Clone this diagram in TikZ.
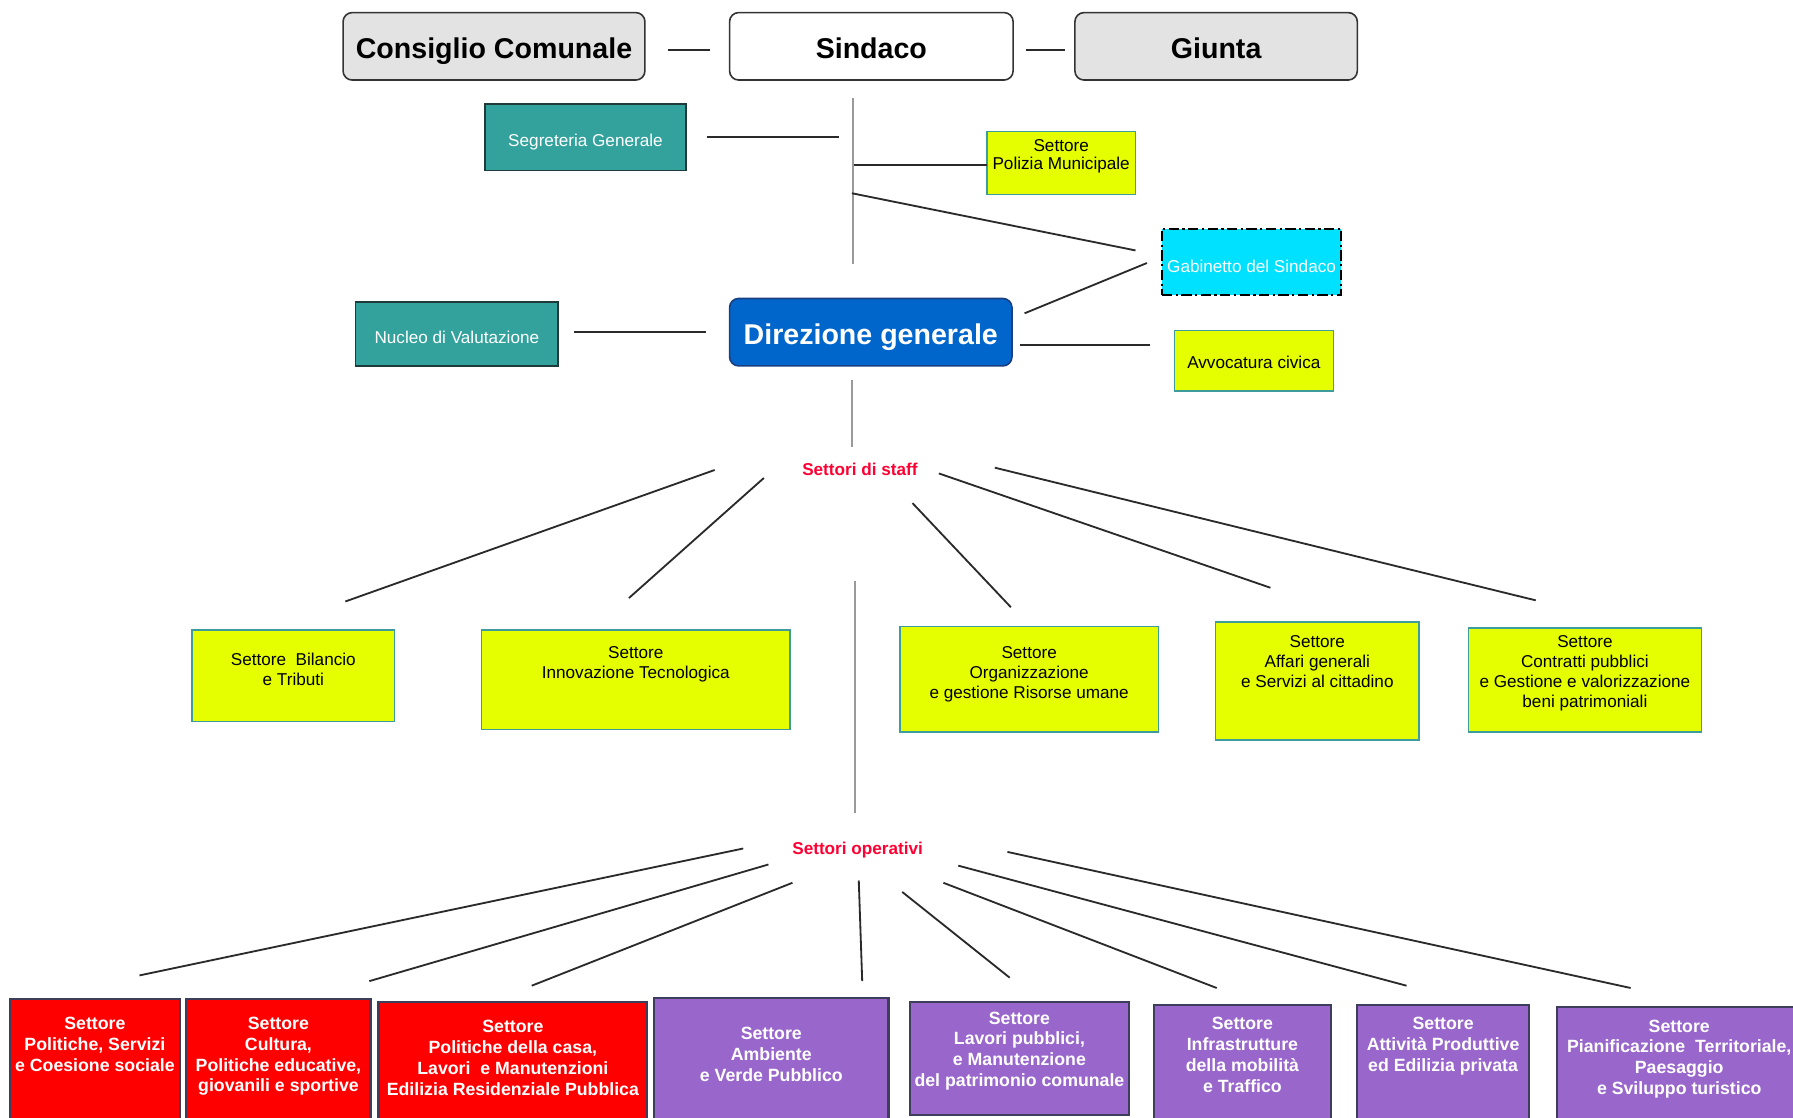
\documentclass[tikz,border=0pt]{standalone}
\usepackage{fontspec}
\setmainfont{Liberation Sans}
\definecolor{grayc}{HTML}{E3E3E3}
\definecolor{tealc}{HTML}{33A29D}
\definecolor{tealbord}{HTML}{1E3A3A}
\definecolor{yellowc}{HTML}{E6FF00}
\definecolor{ybord}{HTML}{3E9C9C}
\definecolor{cyanc}{HTML}{00E1FF}
\definecolor{bluec}{HTML}{0066CC}
\definecolor{bluebord}{HTML}{1A3F80}
\definecolor{redc}{HTML}{FF0000}
\definecolor{purplec}{HTML}{9966CC}
\definecolor{obord}{HTML}{3D3D5C}
\definecolor{labred}{HTML}{FF0033}
\definecolor{linec}{HTML}{2A2A2A}
\definecolor{vlinec}{HTML}{9A9A9A}
\begin{document}
\begin{tikzpicture}[x=1pt,y=-1pt,
  conn/.style={draw=linec, line width=1.6pt},
  vconn/.style={draw=vlinec, line width=2pt},
  topbox/.style={draw=black!80, line width=1.4pt, rounded corners=8pt, minimum height=59pt, inner sep=0pt, text height=21pt, text depth=0pt, font=\bfseries\fontsize{25}{30}\selectfont},
  tealbox/.style={draw=tealbord, fill=tealc, line width=1.4pt, inner sep=0pt, text=white, text height=16.8pt, text depth=0pt, font=\fontsize{15}{17.5}\selectfont},
  ybox/.style={draw=ybord, fill=yellowc, line width=1.3pt, inner sep=0pt, font=\fontsize{15}{17.5}\selectfont},
  ytext/.style={align=center, inner sep=0pt, font=\fontsize{15}{17.5}\selectfont, text=black},
  obox/.style={draw=obord, line width=1.8pt, inner sep=0pt, anchor=north, minimum height=125pt},
  otext/.style={align=center, inner sep=0pt, text=white, font=\bfseries\fontsize{15.5}{18.3}\selectfont},
  redlabel/.style={text=labred, font=\bfseries\fontsize{15}{18}\selectfont, inner sep=0pt}
]
\useasboundingbox (0,0) rectangle (1568,977);
\fill[white] (0,0) rectangle (1568,977);

% ---- top row
\node[topbox, fill=grayc, minimum width=264pt] (cc) at (432,40.5) {Consiglio Comunale};
\node[topbox, fill=white, minimum width=248pt] (sin) at (762,40.5) {Sindaco};
\node[topbox, fill=grayc, minimum width=247pt] (giu) at (1063.5,40.5) {Giunta};

% ---- second level
\node[tealbox, minimum width=176pt, minimum height=58pt] (seg) at (512,120) {Segreteria Generale};
\node[ybox, minimum width=130pt, minimum height=55pt,
  label={[ytext, font=\fontsize{15}{16}\selectfont, anchor=north, yshift=-7.5pt]north:{Settore\\Polizia Municipale}}] (pol) at (928,142.5) {};
\node[draw=black, line width=1.5pt, dash pattern=on 9pt off 3pt on 2pt off 3pt, fill=cyanc,
  minimum width=157pt, minimum height=58pt, inner sep=0pt, text=white, text height=18.8pt, text depth=0pt,
  font=\fontsize{15}{17.5}\selectfont] (gab) at (1094.5,229) {Gabinetto del Sindaco};
\node[draw=bluebord, fill=bluec, line width=1.4pt, rounded corners=8pt, minimum width=247pt,
  minimum height=59pt, inner sep=0pt, text=white, text height=21pt, text depth=0pt,
  font=\bfseries\fontsize{25}{30}\selectfont] (dir) at (761.5,290.5) {Direzione generale};
\node[tealbox, minimum width=177pt, minimum height=56pt] (nuc) at (399.5,292) {Nucleo di Valutazione};
\node[ybox, minimum width=139pt, minimum height=53pt, text height=13.8pt, text depth=0pt] (avv) at (1096.5,315.5) {Avvocatura civica};

% ---- staff
\node[redlabel] (staff) at (752,410.5) {Settori di staff};
\node[ybox, minimum width=177pt, minimum height=80pt,
  label={[ytext, anchor=north, yshift=-20.5pt]north:{Settore\ \ Bilancio\\e Tributi}}] (bil) at (256.5,591) {};
\node[ybox, minimum width=270pt, minimum height=87pt,
  label={[ytext, anchor=north, yshift=-14.5pt]north:{Settore\\Innovazione Tecnologica}}] (inn) at (556,594.5) {};
\node[ybox, minimum width=226pt, minimum height=92pt,
  label={[ytext, anchor=north, yshift=-17.5pt]north:{Settore\\Organizzazione\\e gestione Risorse umane}}] (org) at (900,594) {};
\node[ybox, minimum width=178pt, minimum height=103pt,
  label={[ytext, anchor=north, yshift=-12.5pt]north:{Settore\\Affari generali\\e Servizi al cittadino}}] (aff) at (1152,595.5) {};
\node[ybox, minimum width=204pt, minimum height=91pt,
  label={[ytext, anchor=north, yshift=-7.5pt]north:{Settore\\Contratti pubblici\\e Gestione e valorizzazione\\beni patrimoniali}}] (con) at (1386,594.5) {};

% ---- operative
\node[redlabel] (oper) at (750,743) {Settori operativi};
\node[obox, fill=redc, minimum width=148pt,
  label={[otext, anchor=north, yshift=-16pt]north:{Settore\\Politiche, Servizi\\e Coesione sociale}}] (op1) at (83,873) {};
\node[obox, fill=redc, minimum width=161pt,
  label={[otext, anchor=north, yshift=-16pt]north:{Settore\\Cultura,\\Politiche educative,\\giovanili e sportive}}] (op2) at (243.5,873) {};
\node[obox, fill=redc, minimum width=235pt,
  label={[otext, anchor=north, yshift=-17pt]north:{Settore\\Politiche della casa,\\Lavori\ \ e Manutenzioni\\Edilizia Residenziale Pubblica}}] (op3) at (448.5,875) {};
\node[obox, fill=purplec, minimum width=205pt,
  label={[otext, anchor=north, yshift=-26pt]north:{Settore\\Ambiente\\e Verde Pubblico}}] (op4) at (674.5,872) {};
\node[obox, fill=purplec, minimum width=191pt, minimum height=99pt,
  label={[otext, anchor=north, yshift=-9.5pt]north:{Settore\\Lavori pubblici,\\e Manutenzione\\del patrimonio comunale}}] (op5) at (891.5,875) {};
\node[obox, fill=purplec, minimum width=155pt,
  label={[otext, anchor=north, yshift=-11.5pt]north:{Settore\\Infrastrutture\\della mobilità\\e Traffico}}] (op6) at (1086.5,878) {};
\node[obox, fill=purplec, minimum width=150pt,
  label={[otext, anchor=north, yshift=-11.5pt]north:{Settore\\Attività Produttive\\ed Edilizia privata}}] (op7) at (1262,878) {};
\node[obox, fill=purplec, minimum width=213pt,
  label={[otext, anchor=north, yshift=-11.5pt]north:{Settore\\Pianificazione\ \ Territoriale,\\Paesaggio\\e Sviluppo turistico}}] (op8) at (1468.5,880) {};

% ---- connector end points
\coordinate (csA) at (584,44);   \coordinate (csB) at (621,44);
\coordinate (sgA) at (897,44);   \coordinate (sgB) at (931,44);
\coordinate (vsA) at (746,86);   \coordinate (vsB) at (746,231);
\coordinate (segA) at (618,120); \coordinate (segB) at (734,120);
\coordinate (polA) at (747,144); \coordinate (polB) at (863,144);
\coordinate (gabA) at (745,169); \coordinate (gabB) at (993,219);
\coordinate (gdA) at (1003,230); \coordinate (gdB) at (896,274);
\coordinate (nucA) at (502,290); \coordinate (nucB) at (617,290);
\coordinate (avvA) at (892,302); \coordinate (avvB) at (1006,302);
\coordinate (vdA) at (745,332);  \coordinate (vdB) at (745,391);
\coordinate (s1a) at (625,411); \coordinate (s1b) at (302,526);
\coordinate (s2a) at (668,418); \coordinate (s2b) at (550,523);
\coordinate (s3a) at (798,440); \coordinate (s3b) at (884,531);
\coordinate (s4a) at (821,414); \coordinate (s4b) at (1111,514);
\coordinate (s5a) at (870,409); \coordinate (s5b) at (1343,525);
\coordinate (voA) at (748,508); \coordinate (voB) at (748,711);
\coordinate (o1a) at (650,742); \coordinate (o1b) at (122,853);
\coordinate (o2a) at (672,756); \coordinate (o2b) at (323,858);
\coordinate (o3a) at (693,772); \coordinate (o3b) at (465,862);
\coordinate (o4a) at (751,770); \coordinate (o4b) at (754,858);
\coordinate (o5a) at (789,780); \coordinate (o5b) at (883,855);
\coordinate (o6a) at (825,772); \coordinate (o6b) at (1064,864);
\coordinate (o7a) at (838,757); \coordinate (o7b) at (1230,862);
\coordinate (o8a) at (881,745); \coordinate (o8b) at (1426,864);

% ---- connectors
\draw[conn] (csA) -- (csB);
\draw[conn] (sgA) -- (sgB);
\draw[vconn] (vsA) -- (vsB);
\draw[conn] (segA) -- (segB);
\draw[conn] (polA) -- (polB);
\draw[conn] (gabA) -- (gabB);
\draw[conn] (gdA) -- (gdB);
\draw[conn] (nucA) -- (nucB);
\draw[conn] (avvA) -- (avvB);
\draw[vconn] (vdA) -- (vdB);
\foreach \i in {1,...,5} {\draw[conn] (s\i a) -- (s\i b);}
\draw[vconn] (voA) -- (voB);
\foreach \i in {1,...,8} {\draw[conn] (o\i a) -- (o\i b);}
\end{tikzpicture}
\end{document}
